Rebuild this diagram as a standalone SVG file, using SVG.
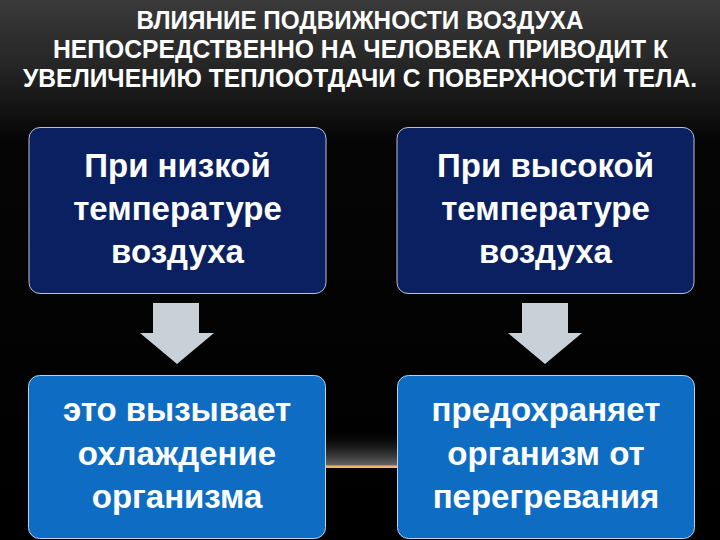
<svg xmlns="http://www.w3.org/2000/svg" width="720" height="540" viewBox="0 0 720 540">
  <defs>
    <linearGradient id="bg" x1="0" y1="0" x2="0" y2="1">
      <stop offset="0" stop-color="#3a3a3a"/>
      <stop offset="0.12" stop-color="#262626"/>
      <stop offset="0.26" stop-color="#050505"/>
      <stop offset="1" stop-color="#000000"/>
    </linearGradient>
    <linearGradient id="haze" x1="0" y1="0" x2="0" y2="1">
      <stop offset="0" stop-color="#000000" stop-opacity="0"/>
      <stop offset="1" stop-color="#6a6a6a" stop-opacity="1"/>
    </linearGradient>
    <linearGradient id="glint" x1="0" y1="0" x2="1" y2="0">
      <stop offset="0" stop-color="#e0a050" stop-opacity="0"/>
      <stop offset="0.3" stop-color="#f0b868"/>
      <stop offset="0.7" stop-color="#f0b868"/>
      <stop offset="1" stop-color="#e0a050" stop-opacity="0"/>
    </linearGradient>
    <linearGradient id="hazeH" x1="0" y1="0" x2="1" y2="0">
      <stop offset="0" stop-color="#fff" stop-opacity="0"/>
      <stop offset="0.3" stop-color="#fff"/>
      <stop offset="0.7" stop-color="#fff"/>
      <stop offset="1" stop-color="#fff" stop-opacity="0"/>
    </linearGradient>
    <mask id="hazeMask">
      <rect x="180" y="420" width="360" height="60" fill="url(#hazeH)"/>
    </mask>
  </defs>
  <style>
    .title { font-family: "Liberation Sans Narrow", "Liberation Sans", Arial, sans-serif; font-weight: bold; font-size: 22px; fill: #ffffff; text-anchor: middle; }
    .top { fill: #0b2060; stroke: #b8c2d6; stroke-width: 1; }
    .bot { fill: #0e6dc2; stroke: #b8d0ea; stroke-width: 1; }
    .lbl { font-family: "Liberation Sans", Arial, sans-serif; font-weight: bold; font-size: 33px; fill: #ffffff; text-anchor: middle; }
    .arrow { fill: #c8d0d8; }
  </style>
  <rect x="0" y="0" width="720" height="540" fill="url(#bg)"/>
  <g mask="url(#hazeMask)">
    <rect x="180" y="428" width="360" height="38" fill="url(#haze)"/>
  </g>
  <rect x="200" y="465.5" width="320" height="2.5" fill="url(#glint)"/>

  <g id="title">
    <text class="title" transform="translate(360 28.5) scale(1 1.16)" x="0" y="0" textLength="447" lengthAdjust="spacingAndGlyphs">ВЛИЯНИЕ ПОДВИЖНОСТИ ВОЗДУХА</text>
    <text class="title" transform="translate(360.5 57.5) scale(1 1.16)" x="0" y="0" textLength="615" lengthAdjust="spacingAndGlyphs">НЕПОСРЕДСТВЕННО НА ЧЕЛОВЕКА ПРИВОДИТ К</text>
    <text class="title" transform="translate(360 86.5) scale(1 1.16)" x="0" y="0" textLength="674" lengthAdjust="spacingAndGlyphs">УВЕЛИЧЕНИЮ ТЕПЛООТДАЧИ С ПОВЕРХНОСТИ ТЕЛА.</text>
  </g>

  <g id="connectors">
    <path class="arrow" d="M153 303 H199 V333 H214 L177 364 L140 333 H153 Z"/>
    <path class="arrow" d="M522 303 H568 V333 H582 L545 364 L508 333 H522 Z"/>
  </g>

  <g id="node-low">
    <rect class="top" x="29" y="127.5" width="297" height="166" rx="11"/>
    <text class="lbl" x="177.5" y="177">При низкой</text>
    <text class="lbl" x="177.5" y="220">температуре</text>
    <text class="lbl" x="177.5" y="263">воздуха</text>
  </g>
  <g id="node-high">
    <rect class="top" x="397" y="127.5" width="297" height="166" rx="11"/>
    <text class="lbl" x="545.5" y="177">При высокой</text>
    <text class="lbl" x="545.5" y="220">температуре</text>
    <text class="lbl" x="545.5" y="263">воздуха</text>
  </g>
  <g id="node-cool">
    <rect class="bot" x="28.5" y="375.5" width="297" height="163" rx="11"/>
    <text class="lbl" x="177" y="421">это вызывает</text>
    <text class="lbl" x="177" y="465">охлаждение</text>
    <text class="lbl" x="177" y="508">организма</text>
  </g>
  <g id="node-protect">
    <rect class="bot" x="397.5" y="375.5" width="297" height="163" rx="11"/>
    <text class="lbl" x="546" y="421">предохраняет</text>
    <text class="lbl" x="546" y="465">организм от</text>
    <text class="lbl" x="546" y="508">перегревания</text>
  </g>
</svg>
